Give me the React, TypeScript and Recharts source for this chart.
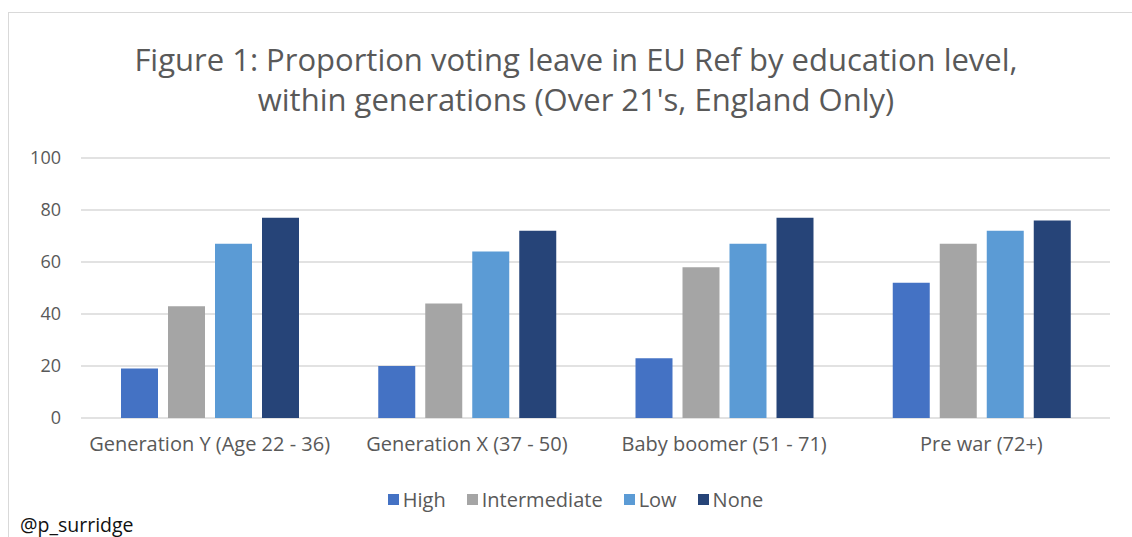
import React from 'react'
import { BarChart, Bar, XAxis, YAxis, CartesianGrid, Legend } from 'recharts'

const generations = ['Generation Y (Age 22 - 36)', 'Generation X (37 - 50)', 'Baby boomer (51 - 71)', 'Pre war (72+)']
const high = [19, 20, 23, 52]
const intermediate = [43, 44, 58, 67]
const low = [67, 64, 67, 72]
const none = [77, 72, 77, 76]
const yTicks = [0, 20, 40, 60, 80, 100]

const series = [
  { key: 'high', name: 'High', color: '#4472C4' },
  { key: 'intermediate', name: 'Intermediate', color: '#A5A5A5' },
  { key: 'low', name: 'Low', color: '#5B9BD5' },
  { key: 'none', name: 'None', color: '#264478' }
]

const data = generations.map((g, i) => ({
  generation: g,
  high: high[i],
  intermediate: intermediate[i],
  low: low[i],
  none: none[i]
}))

const FONT = '"Open Sans", Lato, sans-serif'
const TEXT = '#595959'

const LegendContent = ({ payload }: any) => (
  <div style={{ display: 'flex', justifyContent: 'center', fontFamily: FONT, fontSize: 20, color: TEXT, paddingLeft: 40 }}>
    {(payload || []).map((entry: any, i: number) => (
      <div key={i} style={{ display: 'flex', alignItems: 'center', marginRight: 21 }}>
        <span style={{ width: 11, height: 11, background: entry.color, display: 'inline-block', marginRight: 4 }} />
        <span>{entry.value}</span>
      </div>
    ))}
  </div>
)

export default function App() {
  return (
    <div style={{ position: 'absolute', left: 0, top: 0, width: 1132, height: 537, overflow: 'hidden', background: '#fff' }}>
      <div style={{ position: 'absolute', left: 8, top: 12, width: 1200, height: 600, borderLeft: '1px solid #d9d9d9', borderTop: '1px solid #d9d9d9' }} />
      <div
        style={{
          position: 'absolute',
          left: 0,
          top: 39,
          width: 1152,
          textAlign: 'center',
          fontFamily: FONT,
          fontSize: 31,
          lineHeight: '40px',
          color: TEXT
        }}
      >
        Figure 1: Proportion voting leave in EU Ref by education level,
        <br />
        within generations (Over 21's, England Only)
      </div>
      <div style={{ position: 'absolute', left: 0, top: 0 }}>
        <BarChart
          width={1132}
          height={537}
          data={data}
          margin={{ top: 158, right: 22, left: 0, bottom: 79 }}
          barCategoryGap={40}
          barGap={10}
        >
          <CartesianGrid vertical={false} stroke="#d9d9d9" strokeWidth={1.5} />
          <XAxis
            dataKey="generation"
            axisLine={false}
            tickLine={false}
            tickSize={0}
            tickMargin={19}
            height={40}
            interval={0}
            tick={{ fill: TEXT, fontSize: 20, fontFamily: FONT }}
          />
          <YAxis
            width={81}
            domain={[0, 100]}
            ticks={yTicks}
            axisLine={false}
            tickLine={false}
            tickSize={0}
            tickMargin={20}
            tick={{ fill: TEXT, fontSize: 18, fontFamily: FONT }}
          />
          <Legend
            verticalAlign="middle"
            align="center"
            content={<LegendContent />}
            wrapperStyle={{ top: 486, left: 0, width: 1132 }}
          />
          {series.map(s => (
            <Bar key={s.key} dataKey={s.key} name={s.name} fill={s.color} isAnimationActive={false} />
          ))}
        </BarChart>
      </div>
      <div style={{ position: 'absolute', left: 20, top: 511, fontFamily: FONT, fontSize: 19.5, color: '#111' }}>
        @p_surridge
      </div>
    </div>
  )
}
